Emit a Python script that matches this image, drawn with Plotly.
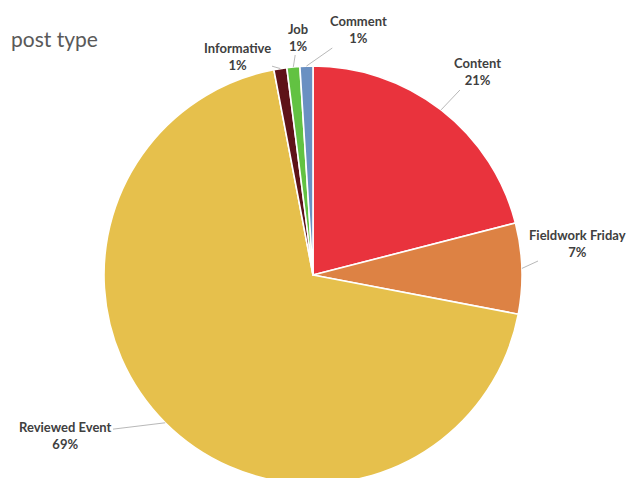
import math
import plotly.graph_objects as go

# Post type shares (percent)
labels = ["Content", "Fieldwork Friday", "Reviewed Event", "Informative", "Job", "Comment"]
values = [21, 7, 69, 1, 1, 1]
colors = ["#E9333D", "#DD8244", "#E6C04C", "#5E1218", "#62C242", "#6A90C2"]

# Label block centres (px) for each slice, in slice order
label_pos = [(477, 72), (577, 243), (65, 435), (237, 56), (298, 37), (358, 30)]

W, H = 627, 486
CX, CY, R = 313, 275, 209
ML, MT = CX - R, CY - R
MR, MB = W - ML - 2 * R, H - MT - 2 * R


def to_paper(px, py):
    return (px - ML) / (2 * R), 1 - (py - MT) / (2 * R)


fig = go.Figure(go.Pie(
    labels=labels,
    values=values,
    sort=False,
    direction="clockwise",
    rotation=0,
    marker=dict(colors=colors, line=dict(color="white", width=1.6)),
    textinfo="none",
    hoverinfo="label+percent",
))

total = sum(values)
cum = 0
annotations = []
for lab, v, (lx, ly) in zip(labels, values, label_pos):
    theta = 2 * math.pi * (cum + v / 2) / total
    cum += v
    tx = CX + R * math.sin(theta)
    ty = CY - R * math.cos(theta)
    px, py = to_paper(tx, ty)
    pct = round(100 * v / total)
    annotations.append(dict(
        x=px, y=py, xref="paper", yref="paper",
        text=f"<b>{lab}<br>{pct}%</b>",
        showarrow=True, arrowhead=0, arrowwidth=0.8, arrowcolor="#A6A6A6",
        ax=lx - tx, ay=ly - ty, axref="pixel", ayref="pixel",
        align="center",
        font=dict(family="Lato", size=13, color="#404040"),
    ))

# Chart title, top-left
tx0, ty0 = to_paper(9, 38)
annotations.append(dict(
    x=tx0, y=ty0, xref="paper", yref="paper",
    xanchor="left", yanchor="middle", showarrow=False,
    text="post type",
    font=dict(family="Lato", size=21, color="#595959"),
))

fig.update_layout(
    width=W, height=H,
    margin=dict(l=ML, r=MR, t=MT, b=MB, autoexpand=False),
    paper_bgcolor="white",
    plot_bgcolor="white",
    showlegend=False,
    annotations=annotations,
)

fig.write_html(
    "out.html",
    post_script=(
        "document.documentElement.style.overflow='hidden';"
        "document.body.style.overflow='hidden';"
        "document.body.style.margin='0';"
    ),
)
